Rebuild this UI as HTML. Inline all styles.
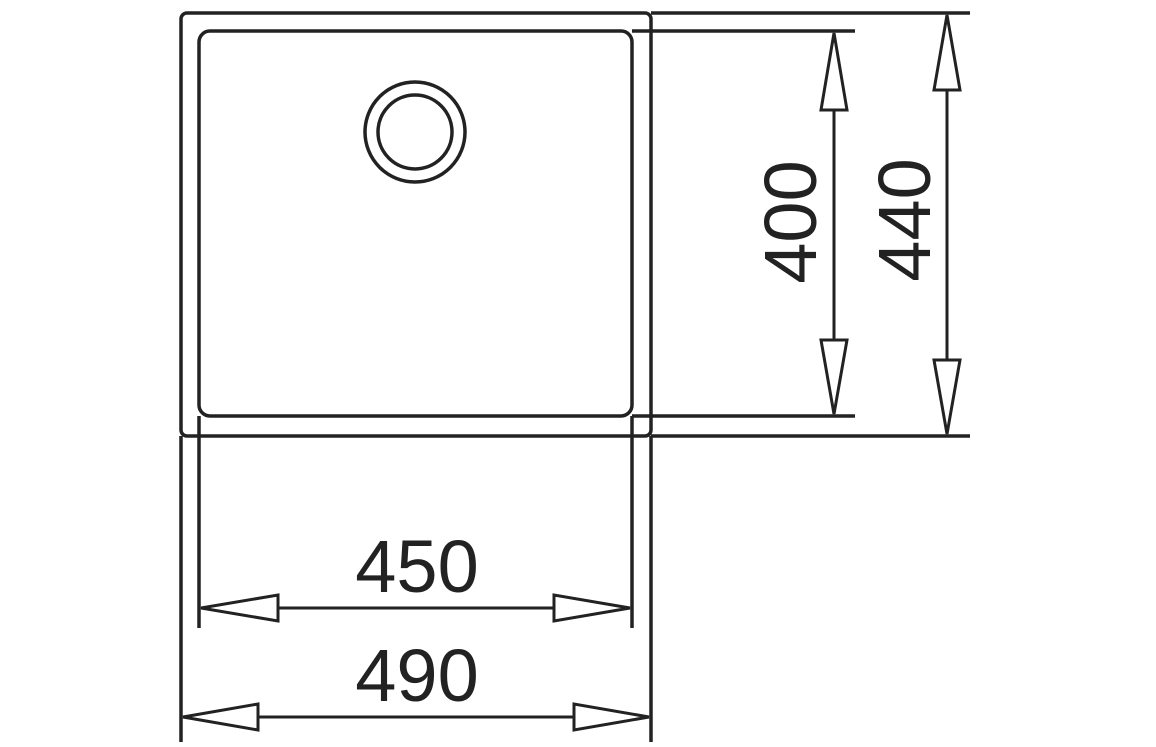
<!DOCTYPE html>
<html><head><style>html,body{margin:0;padding:0;background:#fff}</style></head>
<body>
<svg width="1156" height="742" viewBox="0 0 1156 742" xmlns="http://www.w3.org/2000/svg">
<g fill="none" stroke="#222" stroke-width="3.5">
<rect x="181" y="13" width="470" height="423" rx="6"/>
<rect x="199" y="31" width="433" height="385" rx="11"/>
<line x1="651" y1="13" x2="970" y2="13"/>
<line x1="632" y1="31" x2="855" y2="31"/>
<line x1="632" y1="416" x2="855" y2="416"/>
<line x1="651" y1="436" x2="970" y2="436"/>
<line x1="181" y1="436" x2="181" y2="742"/>
<line x1="651" y1="436" x2="651" y2="742"/>
<line x1="199" y1="416" x2="199" y2="628"/>
<line x1="632" y1="416" x2="632" y2="628"/>
<circle cx="415" cy="132" r="50"/>
<circle cx="415" cy="132" r="37"/>
<line x1="278" y1="608" x2="554" y2="608" stroke-width="3"/>
<polygon points="201,608 278,595 278,621" stroke-width="3"/>
<polygon points="630,608 554,595 554,621" stroke-width="3"/>
<line x1="258" y1="717" x2="574" y2="717" stroke-width="3"/>
<polygon points="183,717 258,704 258,730" stroke-width="3"/>
<polygon points="649,717 574,704 574,730" stroke-width="3"/>
<line x1="834" y1="110" x2="834" y2="340" stroke-width="3"/>
<polygon points="834,33 821,110 847,110" stroke-width="3"/>
<polygon points="834,414 821,340 847,340" stroke-width="3"/>
<line x1="947" y1="90" x2="947" y2="360" stroke-width="3"/>
<polygon points="947,15 934,90 960,90" stroke-width="3"/>
<polygon points="947,434 934,360 960,360" stroke-width="3"/>
</g>
<g font-family="Liberation Sans, sans-serif" font-size="74" fill="#222" text-anchor="middle">
<text x="417" y="592">450</text>
<text x="417" y="701">490</text>
<text transform="translate(816,222) rotate(-90)">400</text>
<text transform="translate(930,220) rotate(-90)">440</text>
</g>
</svg>
</body></html>
